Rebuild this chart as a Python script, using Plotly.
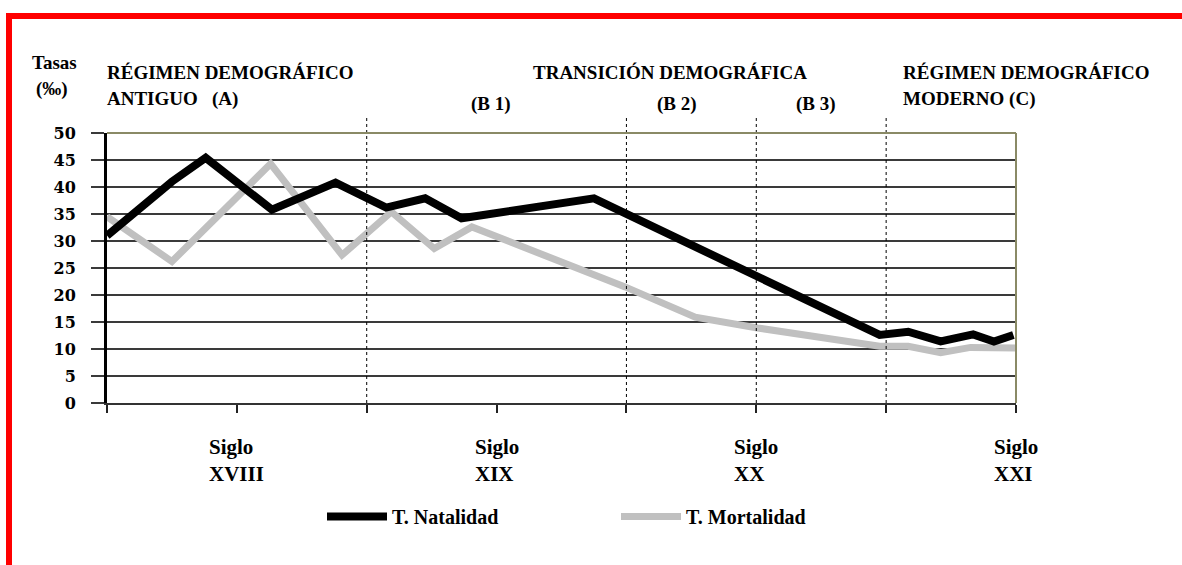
import plotly.graph_objects as go

# ---------------- data ----------------
nat_x = [0, 0.5, 0.76, 1.27, 1.76, 2.15, 2.45, 2.73, 3.75, 5.95, 6.17, 6.42, 6.67, 6.83, 6.98]
nat_y = [31, 41, 45.4, 35.8, 40.8, 36.2, 37.9, 34.2, 37.9, 12.6, 13.2, 11.4, 12.7, 11.4, 12.6]

mort_x = [0, 0.5, 1.26, 1.81, 2.19, 2.52, 2.81, 3.99, 4.53, 5.01, 5.95, 6.17, 6.42, 6.65, 7.0]
mort_y = [34.5, 26.2, 44.3, 27.4, 35.4, 28.6, 32.6, 21.5, 15.9, 13.9, 10.5, 10.5, 9.3, 10.3, 10.2]

series_names = ["T. Natalidad", "T. Mortalidad"]
century_pos = [1, 3, 5, 7]
century_labels = ["XVIII", "XIX", "XX", "XXI"]
phase_bounds = [2, 4, 5, 6]
x_ticks = [0, 1, 2, 3, 4, 5, 6, 7]
y_ticks = [0, 5, 10, 15, 20, 25, 30, 35, 40, 45, 50]
x_range = [0, 7]
y_range = [0, 50]

# ---------------- layout geometry ----------------
W, H = 1182, 565
L, R, T, B = 107, 166, 133, 162
PW, PH = W - L - R, H - T - B


def px(xp):
    return (xp - L) / PW


def py(yp):
    return (H - B - yp) / PH


SERIF = "Liberation Serif, Times New Roman, Times, DejaVu Serif, serif"
hfont = dict(family=SERIF, size=19, color="black", weight="bold")

fig = go.Figure()
fig.add_trace(go.Scatter(x=mort_x, y=mort_y, mode="lines", name=series_names[1],
                         line=dict(color="#c0c0c0", width=7)))
fig.add_trace(go.Scatter(x=nat_x, y=nat_y, mode="lines", name=series_names[0],
                         line=dict(color="black", width=8)))

shapes = []
for b in phase_bounds:
    fx = (b - x_range[0]) / (x_range[1] - x_range[0])
    shapes.append(dict(type="line", xref="x domain", yref="y domain",
                       x0=fx, x1=fx, y0=0, y1=py(115),
                       line=dict(color="black", width=1, dash="dot"), layer="above"))
shapes.append(dict(type="line", xref="x domain", yref="y domain", x0=0, x1=1, y0=1, y1=1,
                   line=dict(color="#8a8a66", width=2), layer="above"))
shapes.append(dict(type="line", xref="x domain", yref="y domain", x0=1, x1=1, y0=0, y1=1,
                   line=dict(color="#8a8a66", width=2), layer="above"))
shapes.append(dict(type="rect", xref="paper", yref="paper",
                   x0=px(9), x1=px(1200), y0=py(620), y1=py(16),
                   line=dict(color="#ff0000", width=6), fillcolor="rgba(0,0,0,0)"))

annotations = []


def txt(text, xp, yp, size=19, xanchor="left"):
    f = dict(hfont)
    f["size"] = size
    annotations.append(dict(text=text, xref="paper", yref="paper", x=px(xp), y=py(yp),
                            xanchor=xanchor, yanchor="middle", showarrow=False, font=f))


txt("Tasas", 30, 63, size=19)
txt("(‰)", 34, 89, size=19)
txt("RÉGIMEN DEMOGRÁFICO", 105, 73)
txt("ANTIGUO   (A)", 105, 99)
txt("TRANSICIÓN DEMOGRÁFICA", 531, 73)
txt("(B 1)", 469, 104)
txt("(B 2)", 655, 104)
txt("(B 3)", 794, 104)
txt("RÉGIMEN DEMOGRÁFICO", 901, 73)
txt("MODERNO (C)", 901, 99)

for pos, lab in zip(century_pos, century_labels):
    annotations.append(dict(text="Siglo<br>" + lab, xref="x", yref="paper", x=pos, y=py(433),
                            xanchor="center", yanchor="top", align="left", showarrow=False,
                            font=dict(family=SERIF, size=21, color="black", weight="bold")))

fig.update_layout(
    width=W, height=H,
    margin=dict(l=L, r=R, t=T, b=B, autoexpand=False),
    paper_bgcolor="white", plot_bgcolor="white",
    font=dict(family=SERIF, color="black"),
    shapes=shapes, annotations=annotations,
    showlegend=True,
    legend=dict(orientation="h", x=px(322), y=py(497), xanchor="left", yanchor="top",
                traceorder="reversed", entrywidth=219, entrywidthmode="pixels", itemwidth=60,
                font=dict(family=SERIF, size=20, color="black", weight="bold"),
                bgcolor="rgba(0,0,0,0)"),
    xaxis=dict(range=x_range, tickvals=x_ticks, ticktext=["" for _ in x_ticks],
               showgrid=False, zeroline=False, showline=True, linecolor="#333333", linewidth=2,
               ticks="outside", ticklen=8, tickwidth=2, tickcolor="#222222"),
    yaxis=dict(range=y_range, tickvals=y_ticks, showgrid=True, gridcolor="#3a3a3a", gridwidth=2,
               zeroline=False, showline=True, linecolor="black", linewidth=3,
               ticks="outside", ticklen=13, tickwidth=2, tickcolor="#3a3a3a",
               ticklabelstandoff=12,
               tickfont=dict(family="DejaVu Serif, serif", size=16, color="black", weight="bold")),
)

fig.write_html("out.html", config={"displayModeBar": False},
               post_script="document.body.style.margin='0px';")
